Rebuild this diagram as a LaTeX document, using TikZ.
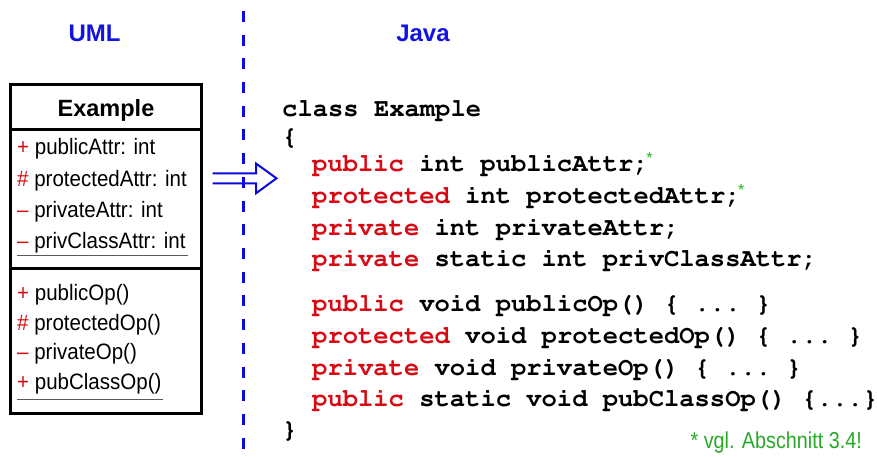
\documentclass[tikz,border=0pt]{standalone}
\usepackage{fontspec}
\setmainfont{Liberation Sans}
\newfontfamily\narrowfont[FakeStretch=0.92]{Liberation Sans}
\newfontfamily\notefont[FakeStretch=0.86]{Liberation Sans}
\definecolor{hdrblue}{RGB}{20,20,225}
\definecolor{lineblue}{RGB}{10,10,220}
\definecolor{kwred}{RGB}{215,10,20}
\definecolor{notegreen}{RGB}{40,170,40}
\definecolor{stargreen}{RGB}{20,190,20}
\definecolor{ulgray}{RGB}{90,90,90}
\newcommand{\kw}[1]{{\color{kwred}#1}}
\newcommand{\mk}[1]{{\color{kwred}#1}}
\newcommand{\codefnt}{\fontencoding{T1}\fontfamily{pcr}\fontseries{b}\selectfont}
\newcommand{\gstar}{{\fontencoding{TU}\fontfamily{\rmdefault}\fontseries{m}\selectfont\kern-2.5pt\raisebox{8pt}{\fontsize{16}{16}\selectfont\color{stargreen}*}}}
\tikzset{
  hdr/.style={anchor=base, inner sep=0pt, font=\fontsize{24}{28}\selectfont\bfseries, text=hdrblue},
  umltxt/.style={anchor=base west, inner sep=0pt, font=\narrowfont\fontsize{22.3}{26}\selectfont},
  codetxt/.style={anchor=base west, inner sep=0pt, font=\codefnt\fontsize{25.5}{30}\selectfont\frenchspacing},
  boxline/.style={line width=3pt, black},
  ulline/.style={line width=1.4pt, ulgray},
}
\begin{document}
\begin{tikzpicture}[x=1pt, y=-1pt]
\path[use as bounding box, fill=white] (0,0) rectangle (877,457);

% headers
\node[hdr] (uml) at (94.5,41.5) {UML};
\node[hdr] (java) at (423,41.5) {Java};

% divider
\coordinate (divtop) at (243.5,0);
\coordinate (divbot) at (243.5,457);
\draw[lineblue, line width=3pt, dash pattern=on 11pt off 12.7pt, dash phase=12.7pt] (divtop) -- (divbot);

% class box
\draw[boxline] (10,85) rectangle (201,413);
\draw[boxline] (10,130) -- (201,130);
\draw[boxline] (10,268.5) -- (201,268.5);
\node[anchor=base, inner sep=0pt, font=\fontsize{23.5}{27}\selectfont\bfseries] (cname) at (106,117) {Example};

\node[umltxt] (a1) at (17,155) {\mk{+} publicAttr: int};
\node[umltxt] (a2) at (17,186.5) {\mk{\#} protectedAttr: int};
\node[umltxt] (a3) at (17,217) {\mk{–} privateAttr: int};
\node[umltxt] (a4) at (17,248) {\mk{–} privClassAttr: int};
\draw[ulline] (a4.base west) ++(0,7.5) -- ++(171,0);

\node[umltxt] (o1) at (17,300) {\mk{+} publicOp()};
\node[umltxt] (o2) at (17,330) {\mk{\#} protectedOp()};
\node[umltxt] (o3) at (17,359.5) {\mk{–} privateOp()};
\node[umltxt] (o4) at (17,389.5) {\mk{+} pubClassOp()};
\draw[ulline] (o4.base west) ++(0,10) -- ++(146,0);

% arrow
\draw[lineblue, line width=2pt, line join=miter]
  (212.5,173.3) -- (256,173.3) -- (256,163.5) -- (276.5,178.3) -- (256,193.3) -- (256,183.3) -- (212.5,183.3);

% java code
\node[codetxt] (c1) at (282,116.7) {class Example};
\node[codetxt] (c2) at (282,144.5) {\{};
\node[codetxt] (c3) at (312,171.7) {\kw{public} int publicAttr;\gstar};
\node[codetxt] (c4) at (312,203) {\kw{protected} int protectedAttr;\gstar};
\node[codetxt] (c5) at (312,235) {\kw{private} int privateAttr;};
\node[codetxt] (c6) at (312,266) {\kw{private} static int privClassAttr;};
\node[codetxt] (c7) at (312,311) {\kw{public} void publicOp() \{ ... \}};
\node[codetxt] (c8) at (312,343) {\kw{protected} void protectedOp() \{ ... \}};
\node[codetxt] (c9) at (312,375) {\kw{private} void privateOp() \{ ... \}};
\node[codetxt] (c10) at (312,406.5) {\kw{public} static void pubClassOp() \{...\}};
\node[codetxt] (c11) at (282,437) {\}};

% note
\node[anchor=base east, inner sep=0pt, font=\notefont\fontsize{23}{26}\selectfont, text=notegreen] (note) at (862,448) {* vgl. Abschnitt 3.4!};
\end{tikzpicture}
\end{document}
